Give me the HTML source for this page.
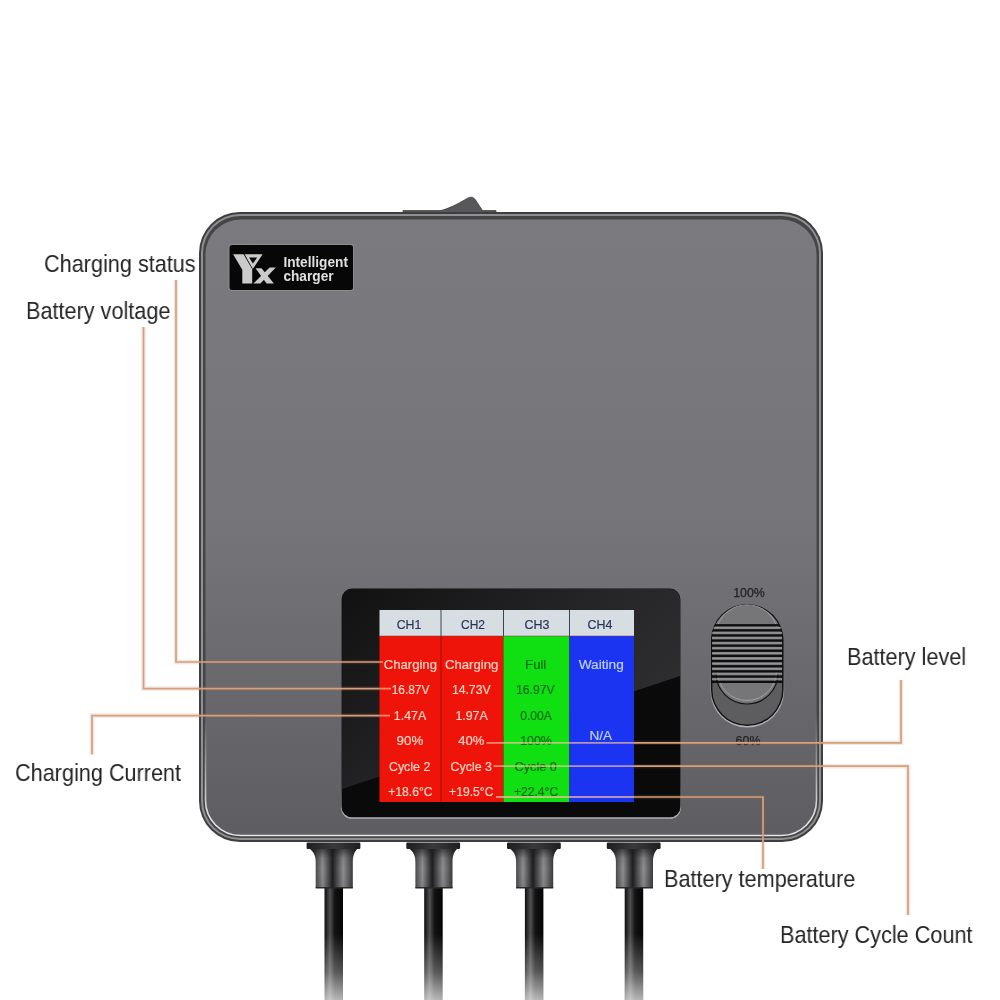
<!DOCTYPE html>
<html>
<head>
<meta charset="utf-8">
<style>
html,body{margin:0;padding:0;background:#fff;}
body{width:1000px;height:1000px;overflow:hidden;position:relative;font-family:"Liberation Sans",sans-serif;}
svg{position:absolute;left:0;top:0;will-change:transform;}
.lbl{position:absolute;font-size:24.2px;color:#252525;white-space:nowrap;line-height:1;transform:scaleX(0.895);transform-origin:0 0;will-change:transform;}
</style>
</head>
<body>
<svg width="1000" height="1000" viewBox="0 0 1000 1000">
<defs>
  <linearGradient id="bodyG" x1="0" y1="0" x2="0" y2="1">
    <stop offset="0" stop-color="#7b7a7e"/>
    <stop offset="0.5" stop-color="#757478"/>
    <stop offset="1" stop-color="#5e5e62"/>
  </linearGradient>
  <linearGradient id="hlG" x1="0" y1="0" x2="0" y2="1">
    <stop offset="0" stop-color="#e4e4e6" stop-opacity="0"/>
    <stop offset="0.8" stop-color="#e4e4e6" stop-opacity="0"/>
    <stop offset="0.97" stop-color="#e4e4e6" stop-opacity="1"/>
    <stop offset="1" stop-color="#e4e4e6" stop-opacity="1"/>
  </linearGradient>
  <linearGradient id="cableG" x1="0" y1="0" x2="1" y2="0">
    <stop offset="0" stop-color="#0c0c0c"/>
    <stop offset="0.3" stop-color="#505052"/>
    <stop offset="0.55" stop-color="#141414"/>
    <stop offset="1" stop-color="#040404"/>
  </linearGradient>
  <linearGradient id="fadeG" x1="0" y1="0" x2="0" y2="1">
    <stop offset="0" stop-color="#fff" stop-opacity="0"/>
    <stop offset="0.42" stop-color="#fff" stop-opacity="0"/>
    <stop offset="0.75" stop-color="#fff" stop-opacity="0.3"/>
    <stop offset="1" stop-color="#fff" stop-opacity="0.7"/>
  </linearGradient>
  <linearGradient id="connG" x1="0" y1="0" x2="1" y2="0">
    <stop offset="0" stop-color="#262628"/>
    <stop offset="0.1" stop-color="#38383a"/>
    <stop offset="0.28" stop-color="#8e8e90"/>
    <stop offset="0.48" stop-color="#1e1e20"/>
    <stop offset="0.7" stop-color="#8e8e90"/>
    <stop offset="0.9" stop-color="#38383a"/>
    <stop offset="1" stop-color="#262628"/>
  </linearGradient>
  <linearGradient id="connTopG" x1="0" y1="0" x2="0" y2="1">
    <stop offset="0" stop-color="#1a1a1c" stop-opacity="0.7"/>
    <stop offset="0.25" stop-color="#1a1a1c" stop-opacity="0.1"/>
    <stop offset="0.5" stop-color="#1a1a1c" stop-opacity="0"/>
    <stop offset="1" stop-color="#1a1a1c" stop-opacity="0.1"/>
  </linearGradient>
  <linearGradient id="flangeG" x1="0" y1="0" x2="1" y2="0">
    <stop offset="0" stop-color="#1e1e20"/>
    <stop offset="0.5" stop-color="#3a3a3c"/>
    <stop offset="1" stop-color="#1e1e20"/>
  </linearGradient>
</defs>

<!-- switch tab -->
<path d="M403 214 L403 210.6 L441 210.6 C452 207.5 461 202 467.5 198.3 C471 196.4 473.5 197 475.5 200 L482.5 210.6 L496 210.6 L496 214 Z" fill="#58585a" stroke="#3c3c3e" stroke-width="0.8"/>
<!-- body -->
<rect x="199" y="212" width="624" height="630" rx="41" fill="#3e3e40"/>
<rect x="201" y="214" width="620" height="626" rx="39" fill="#909092"/>
<rect x="203" y="216" width="616" height="622" rx="37" fill="#454547"/>
<rect x="205.5" y="219.5" width="611" height="616" rx="35" fill="url(#bodyG)"/>
<rect x="205.5" y="219.5" width="611" height="616" rx="35" fill="none" stroke="url(#hlG)" stroke-width="1.6"/>

<!-- logo badge -->
<rect x="228.5" y="244" width="125.5" height="47" rx="3" fill="#8c8c8c"/>
<rect x="229.5" y="245" width="123.5" height="45" rx="2.5" fill="#070707"/>
<g fill="#cbcbcb">
  <path d="M233.1 254.2 L243.9 254.2 L252.2 268.6 L252.2 283.6 L242.3 283.6 L242.3 269.8 Z"/>
  <path d="M244.6 254.2 L262.6 254.2 L252.6 269.3 Z M249.1 257.6 L257.2 257.6 L252.9 263.6 Z" fill-rule="evenodd"/>
  <path d="M255.5 268.2 L261.5 268.2 L273.9 283.6 L266.6 283.6 Z"/>
  <path d="M269.6 267.4 L275.8 267.4 L260.4 283.6 L253.4 283.6 Z"/>
  <path d="M243.9 254.2 L252.4 268.8" stroke="#070707" stroke-width="0.7" fill="none"/>
</g>
<g font-family="Liberation Sans" font-weight="bold" fill="#e0e0e0" font-size="14.3">
  <text x="283.4" y="267.2" textLength="64.6" lengthAdjust="spacingAndGlyphs">Intelligent</text>
  <text x="283.4" y="281.2" textLength="50.2" lengthAdjust="spacingAndGlyphs">charger</text>
</g>

<!-- screen -->
<defs>
  <linearGradient id="scrG" x1="0" y1="0" x2="1" y2="0.7">
    <stop offset="0" stop-color="#111112"/>
    <stop offset="0.55" stop-color="#262628"/>
    <stop offset="1" stop-color="#313133"/>
  </linearGradient>
  <clipPath id="scrClip"><rect x="342" y="589" width="338" height="228" rx="10"/></clipPath>
</defs>
<linearGradient id="scrRimG" x1="0" y1="0" x2="0" y2="1">
  <stop offset="0" stop-color="#a8a8aa" stop-opacity="0"/>
  <stop offset="0.85" stop-color="#a8a8aa" stop-opacity="0"/>
  <stop offset="0.97" stop-color="#b0b0b2" stop-opacity="1"/>
  <stop offset="1" stop-color="#b0b0b2" stop-opacity="1"/>
</linearGradient>
<rect x="341.2" y="588.4" width="339.6" height="230.4" rx="10.8" fill="url(#scrRimG)"/>
<rect x="341.6" y="588.6" width="338.8" height="228.6" rx="10.4" fill="#0e0e10"/>
<rect x="342" y="589" width="338" height="228" rx="10" fill="url(#scrG)"/>
<polygon points="342,789 680,676 680,817 342,817" fill="#0a0a0b" clip-path="url(#scrClip)"/>
<!-- table -->
<rect x="379.5" y="610" width="254.5" height="26" fill="#d6dee4"/>
<rect x="379.5" y="636" width="124" height="166" fill="#ee1409"/>
<rect x="503.5" y="636" width="66" height="166" fill="#10e012"/>
<rect x="569.5" y="636" width="64.5" height="166" fill="#1a34f2"/>
<rect x="440.5" y="610" width="1" height="26" fill="#3c4450"/>
<rect x="503" y="610" width="1" height="26" fill="#3c4450"/>
<rect x="569" y="610" width="1" height="26" fill="#3c4450"/>
<rect x="440.5" y="636" width="1" height="166" fill="#a01008"/>
<rect x="569" y="636" width="1" height="166" fill="#0c4a6a" opacity="0.8"/>
<rect x="379.5" y="635.5" width="254.5" height="1" fill="#8a3030" opacity="0.5"/>
<g id="tbltext" font-family="Liberation Sans" font-size="13">
<text x="396.70" y="628.6" textLength="24.70" lengthAdjust="spacingAndGlyphs" fill="#2a3656" stroke="#2a3656" stroke-width="0.2">CH1</text>
<text x="461.10" y="628.6" textLength="23.90" lengthAdjust="spacingAndGlyphs" fill="#2a3656" stroke="#2a3656" stroke-width="0.2">CH2</text>
<text x="524.40" y="628.6" textLength="25.00" lengthAdjust="spacingAndGlyphs" fill="#2a3656" stroke="#2a3656" stroke-width="0.2">CH3</text>
<text x="587.50" y="628.6" textLength="24.90" lengthAdjust="spacingAndGlyphs" fill="#2a3656" stroke="#2a3656" stroke-width="0.2">CH4</text>
<text x="383.70" y="668.7" textLength="53.30" lengthAdjust="spacingAndGlyphs" fill="#ffd2c4" stroke="#ffd2c4" stroke-width="0.2">Charging</text>
<text x="391.70" y="694" textLength="37.70" lengthAdjust="spacingAndGlyphs" fill="#ffd2c4" stroke="#ffd2c4" stroke-width="0.2">16.87V</text>
<text x="393.80" y="719.5" textLength="32.40" lengthAdjust="spacingAndGlyphs" fill="#ffd2c4" stroke="#ffd2c4" stroke-width="0.2">1.47A</text>
<text x="396.60" y="745.3" textLength="26.80" lengthAdjust="spacingAndGlyphs" fill="#ffd2c4" stroke="#ffd2c4" stroke-width="0.2">90%</text>
<text x="388.90" y="770.5" textLength="41.50" lengthAdjust="spacingAndGlyphs" fill="#ffd2c4" stroke="#ffd2c4" stroke-width="0.2">Cycle 2</text>
<text x="388.20" y="795.7" textLength="44.30" lengthAdjust="spacingAndGlyphs" fill="#ffd2c4" stroke="#ffd2c4" stroke-width="0.2">+18.6°C</text>
<text x="444.90" y="668.7" textLength="53.40" lengthAdjust="spacingAndGlyphs" fill="#ffd2c4" stroke="#ffd2c4" stroke-width="0.2">Charging</text>
<text x="451.90" y="694" textLength="38.70" lengthAdjust="spacingAndGlyphs" fill="#ffd2c4" stroke="#ffd2c4" stroke-width="0.2">14.73V</text>
<text x="455.40" y="719.5" textLength="32.40" lengthAdjust="spacingAndGlyphs" fill="#ffd2c4" stroke="#ffd2c4" stroke-width="0.2">1.97A</text>
<text x="458.20" y="745.3" textLength="26.10" lengthAdjust="spacingAndGlyphs" fill="#ffd2c4" stroke="#ffd2c4" stroke-width="0.2">40%</text>
<text x="450.50" y="770.5" textLength="41.50" lengthAdjust="spacingAndGlyphs" fill="#ffd2c4" stroke="#ffd2c4" stroke-width="0.2">Cycle 3</text>
<text x="449.10" y="795.7" textLength="44.30" lengthAdjust="spacingAndGlyphs" fill="#ffd2c4" stroke="#ffd2c4" stroke-width="0.2">+19.5°C</text>
<text x="525.10" y="668.7" textLength="21.20" lengthAdjust="spacingAndGlyphs" fill="#0c6a10" stroke="#0c6a10" stroke-width="0.2">Full</text>
<text x="516.00" y="694" textLength="38.70" lengthAdjust="spacingAndGlyphs" fill="#0c6a10" stroke="#0c6a10" stroke-width="0.2">16.97V</text>
<text x="520.20" y="719.5" textLength="31.70" lengthAdjust="spacingAndGlyphs" fill="#0c6a10" stroke="#0c6a10" stroke-width="0.2">0.00A</text>
<text x="520.20" y="745.3" textLength="31.70" lengthAdjust="spacingAndGlyphs" fill="#0c6a10" stroke="#0c6a10" stroke-width="0.2">100%</text>
<text x="514.60" y="770.5" textLength="42.20" lengthAdjust="spacingAndGlyphs" fill="#0c6a10" stroke="#0c6a10" stroke-width="0.2">Cycle 0</text>
<text x="513.90" y="795.7" textLength="44.30" lengthAdjust="spacingAndGlyphs" fill="#0c6a10" stroke="#0c6a10" stroke-width="0.2">+22.4°C</text>
<text x="578.70" y="668.7" textLength="45.10" lengthAdjust="spacingAndGlyphs" fill="#c2d0ff" stroke="#c2d0ff" stroke-width="0.2">Waiting</text>
<text x="589.50" y="739.7" textLength="22.60" lengthAdjust="spacingAndGlyphs" fill="#c2d0ff" stroke="#c2d0ff" stroke-width="0.2">N/A</text>
</g>
<!-- slider -->
<defs>
  <clipPath id="knobClip"><path d="M712.5 640 A34.5 34.5 0 0 1 781.5 640 L781.5 673 L712.5 673 Z M716 673 A31 31 0 0 0 778 673 Z"/></clipPath>
  <clipPath id="pillClip"><rect x="711.5" y="604" width="71.5" height="121.5" rx="35.75"/></clipPath>
</defs>
<linearGradient id="rimG" x1="0" y1="0" x2="0" y2="1">
  <stop offset="0" stop-color="#a9a9ab" stop-opacity="0"/>
  <stop offset="0.55" stop-color="#a9a9ab" stop-opacity="0"/>
  <stop offset="0.85" stop-color="#b4b4b6" stop-opacity="1"/>
  <stop offset="1" stop-color="#b4b4b6" stop-opacity="1"/>
</linearGradient>
<rect x="710.3" y="603.5" width="73.9" height="124" rx="36.9" fill="url(#rimG)"/>
<rect x="711" y="604" width="72.5" height="122" rx="36.25" fill="#111112"/>
<rect x="712.4" y="605.4" width="69.7" height="119.2" rx="34.85" fill="#5d5d60"/>
<g clip-path="url(#pillClip)">
  <path d="M712 640 A35 35 0 0 1 782 640 L782 673 L716 673 A31 31 0 0 0 778 673 L782 673 Z" fill="#767679"/>
  <path d="M712.5 673 L712.5 640 A34.5 34.5 0 0 1 781.5 640 L781.5 673 L778 673 A31 31 0 0 1 716 673 Z" fill="#767679"/>
  <path d="M716 673 A31 31 0 0 0 778 673" fill="none" stroke="#141415" stroke-width="1.2"/>
  <path d="M717.5 671 A29.5 29.5 0 0 0 776.5 671" fill="none" stroke="#a6a6a8" stroke-width="0.9"/>
  <path d="M717 628 A31 31 0 0 1 777 628" fill="none" stroke="#a6a6a8" stroke-width="0.9"/>
</g>
<g clip-path="url(#pillClip)">
  <rect x="711" y="624.1" width="72" height="2.3" fill="#0e0e0f"/>
  <rect x="711" y="629.2" width="72" height="2.3" fill="#0e0e0f"/>
  <rect x="711" y="634.3" width="72" height="2.3" fill="#0e0e0f"/>
  <rect x="711" y="639.4" width="72" height="2.3" fill="#0e0e0f"/>
  <rect x="711" y="644.5" width="72" height="2.3" fill="#0e0e0f"/>
  <rect x="711" y="649.6" width="72" height="2.3" fill="#0e0e0f"/>
  <rect x="711" y="654.7" width="72" height="2.3" fill="#0e0e0f"/>
  <rect x="711" y="659.9" width="72" height="2.3" fill="#0e0e0f"/>
  <rect x="711" y="665.1" width="72" height="2.3" fill="#0e0e0f"/>
  <rect x="711" y="670.2" width="72" height="2.3" fill="#0e0e0f"/>
  <rect x="711" y="675.4" width="72" height="2.3" fill="#0e0e0f"/>
  <rect x="711" y="680.7" width="72" height="2.3" fill="#0e0e0f"/>
  <g fill="#959597">
  <rect x="712" y="627" width="70" height="1.5"/>
  <rect x="712" y="632.1" width="70" height="1.5"/>
  <rect x="712" y="637.2" width="70" height="1.5"/>
  <rect x="712" y="642.3" width="70" height="1.5"/>
  <rect x="712" y="647.4" width="70" height="1.5"/>
  <rect x="712" y="652.5" width="70" height="1.5"/>
  <rect x="712" y="657.6" width="70" height="1.5"/>
  <rect x="712" y="662.8" width="70" height="1.5"/>
  <rect x="712" y="668" width="70" height="1.5"/>
  <rect x="712" y="673.1" width="70" height="1.5"/>
  <rect x="712" y="678.3" width="70" height="1.5"/>
  </g>
</g>
<text x="749" y="596.5" font-family="Liberation Sans" font-size="12.4" fill="#232325" stroke="#232325" stroke-width="0.25" text-anchor="middle">100%</text>
<text x="748" y="745" font-family="Liberation Sans" font-size="12.4" fill="#232325" stroke="#232325" stroke-width="0.25" text-anchor="middle">60%</text>

<!-- connectors + cables -->
<g transform="translate(0,0)">
  <rect x="324.5" y="886" width="18.5" height="114" fill="url(#cableG)"/>
  <rect x="324" y="886" width="19.5" height="114" fill="url(#fadeG)"/>
  <path d="M309 848 L358 848 C354 852 352.8 856 352.8 862 L352.8 888 L315.7 888 L315.7 862 C315.7 856 314 852 309 848 Z" fill="url(#connG)"/>
  <path d="M309 848 L358 848 C354 852 352.8 856 352.8 862 L352.8 888 L315.7 888 L315.7 862 C315.7 856 314 852 309 848 Z" fill="url(#connTopG)"/>
  <path d="M315.7 887 L352.8 887 L352.8 888.5 L315.7 888.5 Z" fill="#2a2a2c"/>
  <rect x="306.6" y="842.5" width="53.8" height="6.5" rx="1.2" fill="url(#flangeG)"/>
</g>
<g transform="translate(99.7,0)">
  <rect x="324.5" y="886" width="18.5" height="114" fill="url(#cableG)"/>
  <rect x="324" y="886" width="19.5" height="114" fill="url(#fadeG)"/>
  <path d="M309 848 L358 848 C354 852 352.8 856 352.8 862 L352.8 888 L315.7 888 L315.7 862 C315.7 856 314 852 309 848 Z" fill="url(#connG)"/>
  <path d="M309 848 L358 848 C354 852 352.8 856 352.8 862 L352.8 888 L315.7 888 L315.7 862 C315.7 856 314 852 309 848 Z" fill="url(#connTopG)"/>
  <path d="M315.7 887 L352.8 887 L352.8 888.5 L315.7 888.5 Z" fill="#2a2a2c"/>
  <rect x="306.6" y="842.5" width="53.8" height="6.5" rx="1.2" fill="url(#flangeG)"/>
</g>
<g transform="translate(200.4,0)">
  <rect x="324.5" y="886" width="18.5" height="114" fill="url(#cableG)"/>
  <rect x="324" y="886" width="19.5" height="114" fill="url(#fadeG)"/>
  <path d="M309 848 L358 848 C354 852 352.8 856 352.8 862 L352.8 888 L315.7 888 L315.7 862 C315.7 856 314 852 309 848 Z" fill="url(#connG)"/>
  <path d="M309 848 L358 848 C354 852 352.8 856 352.8 862 L352.8 888 L315.7 888 L315.7 862 C315.7 856 314 852 309 848 Z" fill="url(#connTopG)"/>
  <path d="M315.7 887 L352.8 887 L352.8 888.5 L315.7 888.5 Z" fill="#2a2a2c"/>
  <rect x="306.6" y="842.5" width="53.8" height="6.5" rx="1.2" fill="url(#flangeG)"/>
</g>
<g transform="translate(300.2,0)">
  <rect x="324.5" y="886" width="18.5" height="114" fill="url(#cableG)"/>
  <rect x="324" y="886" width="19.5" height="114" fill="url(#fadeG)"/>
  <path d="M309 848 L358 848 C354 852 352.8 856 352.8 862 L352.8 888 L315.7 888 L315.7 862 C315.7 856 314 852 309 848 Z" fill="url(#connG)"/>
  <path d="M309 848 L358 848 C354 852 352.8 856 352.8 862 L352.8 888 L315.7 888 L315.7 862 C315.7 856 314 852 309 848 Z" fill="url(#connTopG)"/>
  <path d="M315.7 887 L352.8 887 L352.8 888.5 L315.7 888.5 Z" fill="#2a2a2c"/>
  <rect x="306.6" y="842.5" width="53.8" height="6.5" rx="1.2" fill="url(#flangeG)"/>
</g>
<!-- leader lines -->
<g fill="none" stroke="#a87050" stroke-width="4.5" opacity="0.16">
  <path d="M176 280 L176 662 L379.5 662"/>
  <path d="M143.5 327 L143.5 688.6 L379.5 688.6"/>
  <path d="M92 754.5 L92 715.6 L379.5 715.6"/>
  <path d="M634 742.8 L901 742.8 L901 680"/>
  <path d="M634 766.2 L908 766.2 L908 915"/>
  <path d="M634 797 L763 797 L763 869"/>
</g>
<g fill="none" stroke="#d6a07a" stroke-width="1.7">
  <path d="M176 280 L176 662 L379.5 662"/>
  <path d="M143.5 327 L143.5 688.6 L379.5 688.6"/>
  <path d="M92 754.5 L92 715.6 L379.5 715.6"/>
  <path d="M634 742.8 L901 742.8 L901 680"/>
  <path d="M634 766.2 L908 766.2 L908 915"/>
  <path d="M634 797 L763 797 L763 869"/>
</g>
<g fill="none" stroke="#ffc0a0" stroke-width="1.8" opacity="0.68">
  <path d="M379.5 662 L383 662"/>
  <path d="M379.5 688.6 L391 688.6"/>
  <path d="M379.5 715.6 L390 715.6"/>
  <path d="M486.5 742.8 L634 742.8"/>
  <path d="M493.5 766.2 L634 766.2"/>
  <path d="M496 797 L634 797"/>
</g>
</svg>

<div class="lbl" style="left:44px;top:252.4px;">Charging status</div>
<div class="lbl" style="left:26px;top:298.6px;">Battery voltage</div>
<div class="lbl" style="left:15px;top:760.6px;">Charging Current</div>
<div class="lbl" style="left:847px;top:644.8px;">Battery level</div>
<div class="lbl" style="left:664px;top:866.6px;">Battery temperature</div>
<div class="lbl" style="left:780px;top:922.7px;">Battery Cycle Count</div>
</body>
</html>
